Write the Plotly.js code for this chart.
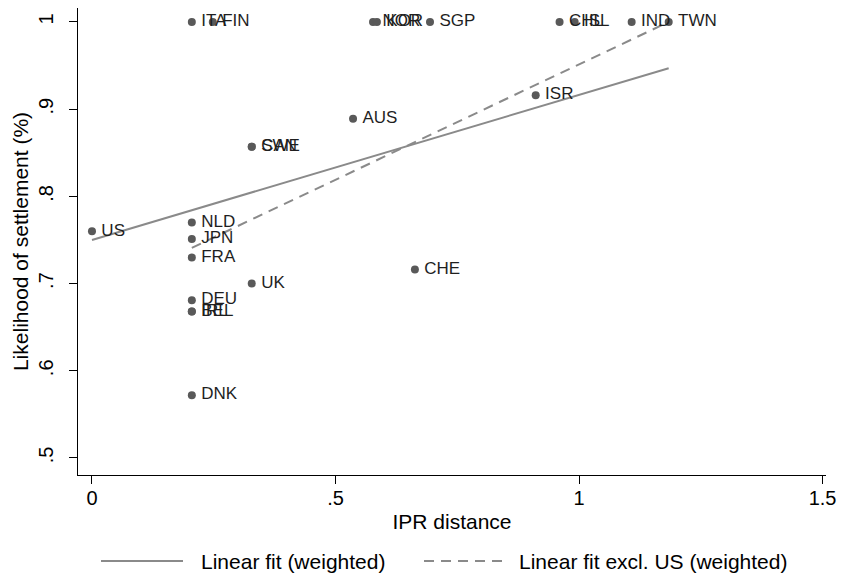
<!DOCTYPE html>
<html>
<head>
<meta charset="utf-8">
<script src="https://cdn.plot.ly/plotly-3.0.1.min.js"></script>
<style>
html,body{margin:0;padding:0;background:#fff;}
#chart{width:846px;height:579px;}
</style>
</head>
<body>
<div id="chart"></div>
<script>
// Country labels
const countries = ['US','ITA','FIN','NOR','KOR','SGP','CHL','ISL','IND','TWN','ISR','AUS','CAN','SWE','NLD','JPN','FRA','UK','CHE','DEU','BEL','IRL','DNK'];
// IPR distance (x)
const iprDistance = [0, 0.205, 0.248, 0.577, 0.585, 0.694, 0.960, 0.991, 1.108, 1.184, 0.911, 0.536, 0.328, 0.328, 0.205, 0.205, 0.205, 0.328, 0.663, 0.205, 0.205, 0.205, 0.205];
// Likelihood of settlement (y)
const settlement = [0.760, 1, 1, 1, 1, 1, 1, 1, 1, 1, 0.916, 0.889, 0.857, 0.857, 0.770, 0.751, 0.730, 0.700, 0.716, 0.681, 0.668, 0.668, 0.572];
// Linear fit (weighted), endpoints
const fitX = [0, 1.184];
const fitY = [0.750, 0.947];
// Linear fit excl. US (weighted), endpoints
const fitExUSX = [0.205, 1.184];
const fitExUSY = [0.741, 1.000];
// Axis ticks
const xTickVals = [0, 0.5, 1, 1.5];
const xTickText = ['0', '.5', '1', '1.5'];
const yTickVals = [0.5, 0.6, 0.7, 0.8, 0.9, 1];
const yTickText = ['.5', '.6', '.7', '.8', '.9', '1'];
// Legend texts
const seriesNames = ['Linear fit (weighted)', 'Linear fit excl. US (weighted)'];

const FONT = 'Liberation Sans, Arial, sans-serif';
const LINE_COLOR = '#8a8a8a';
const DASH = '10px,7px';

const traces = [
  {
    x: fitX, y: fitY, type: 'scatter', mode: 'lines',
    name: seriesNames[0], showlegend: false,
    line: {color: LINE_COLOR, width: 2}
  },
  {
    x: fitExUSX, y: fitExUSY, type: 'scatter', mode: 'lines',
    name: seriesNames[1], showlegend: false,
    line: {color: LINE_COLOR, width: 2, dash: DASH}
  },
  {
    x: iprDistance, y: settlement, text: countries, type: 'scatter', mode: 'markers+text',
    texttemplate: '\u2009%{text}',
    textposition: 'middle right',
    textfont: {family: FONT, size: 17, color: '#1f1f1f'},
    marker: {color: '#595959', size: 8},
    showlegend: false, cliponaxis: false, hoverinfo: 'x+y+text'
  }
];

// plot area in pixels: x 78..826, y 8..475
const PL = 78, PR = 826, PT = 8, PB = 475;
const px2x = p => (p - PL) / (PR - PL);
const px2y = p => (PB - p) / (PB - PT);
const legY = px2y(561);

const shapes = [
  {type: 'line', xref: 'paper', yref: 'paper', x0: px2x(101), x1: px2x(183), y0: legY, y1: legY,
   line: {color: LINE_COLOR, width: 2}},
  {type: 'line', xref: 'paper', yref: 'paper', x0: px2x(424), x1: px2x(506), y0: legY, y1: legY,
   line: {color: LINE_COLOR, width: 2, dash: DASH}}
];
const annotations = [
  {xref: 'paper', yref: 'paper', x: px2x(199), y: legY, xanchor: 'left', yanchor: 'middle',
   text: seriesNames[0], showarrow: false, font: {family: FONT, size: 21, color: '#000'}},
  {xref: 'paper', yref: 'paper', x: px2x(517), y: legY, xanchor: 'left', yanchor: 'middle',
   text: seriesNames[1], showarrow: false, font: {family: FONT, size: 21, color: '#000'}}
];

const layout = {
  width: 846, height: 579,
  paper_bgcolor: '#ffffff', plot_bgcolor: '#ffffff',
  margin: {l: PL, r: 846 - PR, t: PT, b: 579 - PB},
  font: {family: FONT, color: '#000', size: 20},
  showlegend: false,
  shapes: shapes,
  annotations: annotations,
  xaxis: {
    range: [-0.0287, 1.507],
    tickvals: xTickVals, ticktext: xTickText,
    ticks: 'outside', ticklen: 8, tickcolor: '#000', tickwidth: 1,
    showline: true, linecolor: '#000', linewidth: 1, mirror: false,
    showgrid: false, zeroline: false,
    tickfont: {family: FONT, size: 20, color: '#000'},
    ticklabelstandoff: -3,
    title: {text: 'IPR distance', font: {family: FONT, size: 21, color: '#000'}, standoff: 6}
  },
  yaxis: {
    range: [0.4805, 1.016],
    tickvals: yTickVals, ticktext: yTickText, tickangle: -90,
    ticks: 'outside', ticklen: 8, tickcolor: '#000', tickwidth: 1,
    showline: true, linecolor: '#000', linewidth: 1, mirror: false,
    showgrid: false, zeroline: false,
    tickfont: {family: FONT, size: 20, color: '#000'},
    ticklabelstandoff: 8,
    title: {text: 'Likelihood of settlement (%)', font: {family: FONT, size: 21, color: '#000'}, standoff: 0}
  }
};

Plotly.newPlot('chart', traces, layout, {displayModeBar: false, staticPlot: true});
</script>
</body>
</html>
